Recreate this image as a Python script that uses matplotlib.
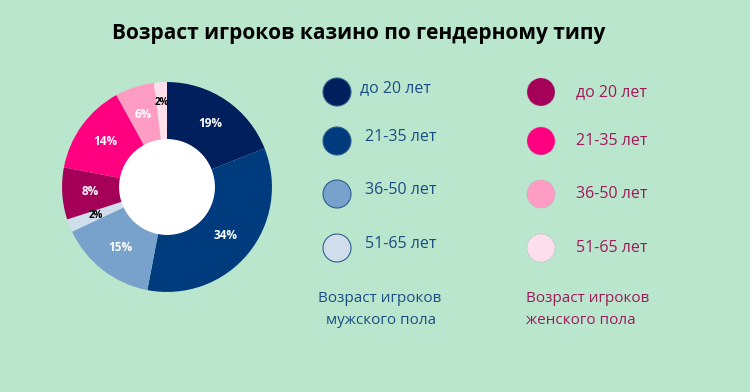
import matplotlib.pyplot as plt
from matplotlib.patches import Circle

# données
age_groups = ["до 20 лет", "21-35 лет", "36-50 лет", "51-65 лет"]
men_share = [19, 34, 15, 2]
women_share = [8, 14, 6, 2]
men_colors = ["#001f5c", "#003b7e", "#78a2cb", "#cfdeea"]
women_colors = ["#a4005a", "#ff0080", "#ff9cc4", "#ffdfeb"]
men_text = "#1b4d84"
women_text = "#a0195a"
bg = "#bae6cd"

W, H = 750, 392
fig = plt.figure(figsize=(W / 100, H / 100), dpi=100, facecolor=bg)
plt.rcParams['font.family'] = ['Open Sans', 'DejaVu Sans']

# --- anneau ---
cx, cy, r = 167, 187, 106
ax = fig.add_axes([(cx - r) / W, (H - cy - r) / H, 2 * r / W, 2 * r / H])
ax.set_facecolor(bg)
# ordre horaire : hommes puis femmes
values = men_share + women_share
colors = men_colors + women_colors
wedges, texts, autotexts = ax.pie(
    values, colors=colors, startangle=90, counterclock=False,
    radius=1.0, wedgeprops=dict(width=0.55, linewidth=0),
    autopct=lambda p: f"{p:.0f}%", pctdistance=0.73,
    textprops=dict(color="white", fontsize=8.5, fontweight="bold"))
for v, t in zip(values, autotexts):
    if v <= 2:
        t.set_color("black")
        t.set_fontsize(7)
x0, y0 = autotexts[-1].get_position()
autotexts[-1].set_position((x0 * 1.1, y0 * 1.1))
ax.add_patch(Circle((0, 0), 0.45, color="white", zorder=3))
ax.set_xlim(-1.01, 1.01)
ax.set_ylim(-1.01, 1.01)
ax.set_aspect("equal")
ax.axis("off")

# --- titre et légende ---
lg = fig.add_axes([0, 0, 1, 1])
lg.set_xlim(0, W)
lg.set_ylim(H, 0)
lg.axis("off")
lg.patch.set_alpha(0)

lg.text(359, 33, "Возраст игроков казино по гендерному типу", ha="center",
        va="center", fontsize=15, fontweight="bold", color="black")

rows_y = [92, 141, 194, 248]
for i, lab in enumerate(age_groups):
    lg.add_patch(Circle((337, rows_y[i]), 14, facecolor=men_colors[i],
                        edgecolor="#2e5f8f", linewidth=0.8))
    lg.text(360 if i == 0 else 365, rows_y[i] - 4, lab, ha="left", va="center",
            fontsize=11.5, color=men_text)
    lg.add_patch(Circle((541, rows_y[i]), 14, facecolor=women_colors[i],
                        edgecolor="#b0a0b8", linewidth=0.6, linestyle=":"))
    lg.text(576, rows_y[i], lab, ha="left", va="center",
            fontsize=11.5, color=women_text)

lg.text(380, 298, "Возраст игроков", ha="center", va="center",
        fontsize=11, color=men_text)
lg.text(381, 320, "мужского пола", ha="center", va="center",
        fontsize=11, color=men_text)
lg.text(526, 298, "Возраст игроков", ha="left", va="center",
        fontsize=11, color=women_text)
lg.text(526, 320, "женского пола", ha="left", va="center",
        fontsize=11, color=women_text)

fig.savefig("out.png", dpi=100, facecolor=bg)
